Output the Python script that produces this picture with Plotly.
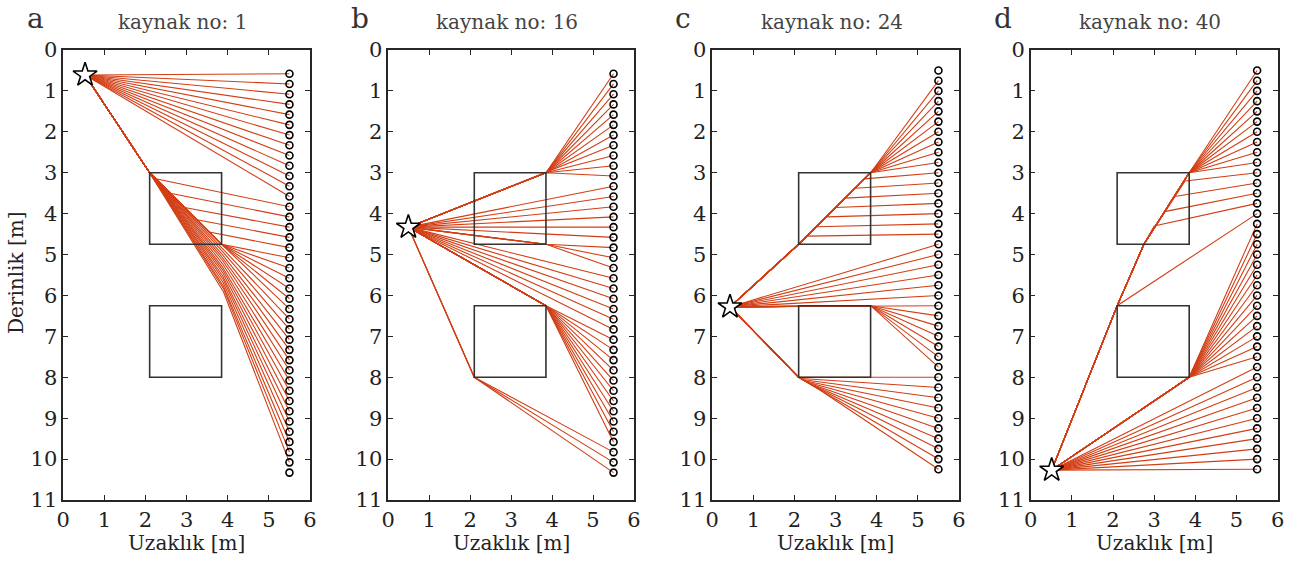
import plotly.graph_objects as go

# ---------------- data ----------------
PANEL_LETTERS = ["a", "b", "c", "d"]
PANEL_TITLES = ["kaynak no: 1", "kaynak no: 16", "kaynak no: 24", "kaynak no: 40"]

# receiver depths (m) at x = 5.5 m
REC_X = 5.5
REC_AB = [0.58, 0.83, 1.08, 1.33, 1.58, 1.83, 2.08, 2.33, 2.58, 2.83,
          3.08, 3.33, 3.58, 3.83, 4.08, 4.33, 4.58, 4.83, 5.08, 5.33,
          5.58, 5.83, 6.08, 6.33, 6.58, 6.83, 7.08, 7.33, 7.58, 7.83,
          8.08, 8.33, 8.58, 8.83, 9.08, 9.33, 9.58, 9.83, 10.08, 10.33]
REC_CD = [0.5, 0.75, 1.0, 1.25, 1.5, 1.75, 2.0, 2.25, 2.5, 2.75,
          3.0, 3.25, 3.5, 3.75, 4.0, 4.25, 4.5, 4.75, 5.0, 5.25,
          5.5, 5.75, 6.0, 6.25, 6.5, 6.75, 7.0, 7.25, 7.5, 7.75,
          8.0, 8.25, 8.5, 8.75, 9.0, 9.25, 9.5, 9.75, 10.0, 10.25]
RECEIVERS = [REC_AB, REC_AB, REC_CD, REC_CD]

# source positions
SOURCE_X = [0.53, 0.49, 0.43, 0.51]
SOURCE_Y = [0.61, 4.33, 6.28, 10.27]

# anomaly rectangles
RECT_X = [2.1, 3.85]
RECT_UPPER_Y = [3.0, 4.75]
RECT_LOWER_Y = [6.25, 8.0]

# ray groups: receiver index range, fixed bend points, per-ray branch points
RAYS_A = [
    dict(first=0, last=12, via=[], branch=None),
    dict(first=13, last=17, via=[(2.1, 3.0)],
         branch=[(2.25, 3.15), (2.6, 3.5), (2.95, 3.85), (3.25, 4.15), (3.55, 4.45)]),
    dict(first=18, last=22, via=[(2.1, 3.0), (3.85, 4.75)], branch=None),
    dict(first=23, last=38, via=[(2.1, 3.0)],
         branch=[(3.85, 4.75), (3.85, 4.83), (3.86, 4.91), (3.86, 4.99), (3.86, 5.06),
                 (3.87, 5.14), (3.87, 5.22), (3.87, 5.30), (3.88, 5.38), (3.88, 5.45),
                 (3.88, 5.53), (3.89, 5.61), (3.89, 5.69), (3.89, 5.77), (3.90, 5.84),
                 (3.90, 5.92)]),
]
RAYS_B = [
    dict(first=0, last=10, via=[(3.85, 3.0)], branch=None),
    dict(first=11, last=16, via=[], branch=None),
    dict(first=17, last=19, via=[(3.85, 4.75)], branch=None),
    dict(first=20, last=25, via=[], branch=None),
    dict(first=26, last=36, via=[(3.85, 6.25)], branch=None),
    dict(first=37, last=39, via=[(2.1, 8.0)], branch=None),
]
RAYS_C = [
    dict(first=1, last=9, via=[(2.1, 4.75), (3.85, 3.0)], branch=None),
    dict(first=10, last=16, via=[(2.1, 4.75)],
         branch=[(3.7, 3.15), (3.47, 3.38), (3.23, 3.62), (3.0, 3.85),
                 (2.77, 4.08), (2.53, 4.32), (2.3, 4.55)]),
    dict(first=17, last=22, via=[], branch=None),
    dict(first=23, last=29, via=[(3.85, 6.25)], branch=None),
    dict(first=30, last=39, via=[(2.1, 8.0)],
         branch=[(2.12, 8.0), (2.17, 8.03), (2.22, 8.06), (2.27, 8.09), (2.32, 8.12),
                 (2.38, 8.16), (2.43, 8.19), (2.48, 8.22), (2.54, 8.26), (2.6, 8.3)]),
]
RAYS_D = [
    dict(first=0, last=9, via=[(2.1, 6.25), (2.75, 4.75), (3.85, 3.0)], branch=None),
    dict(first=10, last=13, via=[(2.1, 6.25), (2.75, 4.75)],
         branch=[(3.75, 3.2), (3.5, 3.58), (3.25, 3.95), (3.0, 4.3)]),
    dict(first=14, last=14, via=[(2.1, 6.25)], branch=None),
    dict(first=15, last=28, via=[(3.85, 8.0)], branch=None),
    dict(first=29, last=39, via=[], branch=None),
]
RAYS = [RAYS_A, RAYS_B, RAYS_C, RAYS_D]

X_TICKS = [0, 1, 2, 3, 4, 5, 6]
Y_TICKS = [0, 1, 2, 3, 4, 5, 6, 7, 8, 9, 10, 11]

# ---------------- styling / layout ----------------
W, H = 1299, 561
RAY_COLOR = "rgb(210,62,20)"
AX_COLOR = "#262626"
FONT = "DejaVu Serif"

# axes pixel boxes (left, right) and (top, bottom)
AX_X_PX = [(63.3, 310.0), (388.3, 634.0), (712.3, 959.0), (1030.7, 1277.7)]
AX_Y_PX = (50.0, 500.0)
LETTER_X_PX = [35, 360, 683, 1003]


def px_x(v):
    return v / W


def px_y(v):
    return 1 - v / H


fig = go.Figure()
layout = dict(
    width=W, height=H,
    margin=dict(l=0, r=0, t=0, b=0, autoexpand=False),
    paper_bgcolor="white", plot_bgcolor="white",
    showlegend=False,
    annotations=[], shapes=[],
)

for p in range(4):
    n = "" if p == 0 else str(p + 1)
    xa, ya = "x" + n, "y" + n
    sx, sy = SOURCE_X[p], SOURCE_Y[p]
    rec = RECEIVERS[p]

    xs, ys = [], []
    for g in RAYS[p]:
        for k, i in enumerate(range(g["first"], g["last"] + 1)):
            pts = [(sx, sy)] + list(g["via"])
            if g["branch"] is not None:
                pts.append(g["branch"][k])
            pts.append((REC_X, rec[i]))
            xs += [q[0] for q in pts] + [None]
            ys += [q[1] for q in pts] + [None]
    fig.add_trace(go.Scatter(x=xs, y=ys, mode="lines",
                             line=dict(color=RAY_COLOR, width=1.1),
                             xaxis=xa, yaxis=ya, hoverinfo="skip"))

    fig.add_trace(go.Scatter(x=[REC_X] * len(rec), y=rec, mode="markers",
                             marker=dict(symbol="circle-open", size=7,
                                         color="black", line=dict(width=1.6)),
                             xaxis=xa, yaxis=ya, hoverinfo="skip"))
    fig.add_trace(go.Scatter(x=[sx], y=[sy], mode="markers",
                             marker=dict(symbol="star", size=18, color="white",
                                         line=dict(color="black", width=1.6)),
                             xaxis=xa, yaxis=ya, hoverinfo="skip"))

    for ry in (RECT_UPPER_Y, RECT_LOWER_Y):
        layout["shapes"].append(dict(type="rect", xref=xa, yref=ya,
                                     x0=RECT_X[0], x1=RECT_X[1], y0=ry[0], y1=ry[1],
                                     line=dict(color="#333333", width=1.6),
                                     layer="above"))

    l_px, r_px = AX_X_PX[p]
    common = dict(
        ticks="inside", ticklen=5, tickwidth=1.2, tickcolor=AX_COLOR,
        showline=True, linecolor=AX_COLOR, linewidth=1.5, mirror="allticks",
        showgrid=False, zeroline=False, automargin=False,
        tickfont=dict(family=FONT, size=21, color="#222222"),
    )
    layout["xaxis" + n] = dict(
        domain=[px_x(l_px), px_x(r_px)], range=[0, 6], anchor=ya,
        tickvals=X_TICKS, ticktext=[str(v) for v in X_TICKS], **common)
    layout["yaxis" + n] = dict(
        domain=[px_y(AX_Y_PX[1]), px_y(AX_Y_PX[0])], range=[11, 0], anchor=xa,
        tickvals=Y_TICKS, ticktext=[str(v) for v in Y_TICKS], **common)

    cx = (l_px + r_px) / 2
    layout["annotations"].append(dict(
        text=PANEL_TITLES[p], x=px_x(cx - 4), y=px_y(22), xref="paper", yref="paper",
        xanchor="center", yanchor="middle", showarrow=False,
        font=dict(family=FONT, size=20, color="#444444")))
    layout["annotations"].append(dict(
        text=PANEL_LETTERS[p], x=px_x(LETTER_X_PX[p]), y=px_y(19), xref="paper", yref="paper",
        xanchor="center", yanchor="middle", showarrow=False,
        font=dict(family=FONT, size=28, color="#333333")))
    layout["annotations"].append(dict(
        text="Uzaklık [m]", x=px_x(cx), y=px_y(543), xref="paper", yref="paper",
        xanchor="center", yanchor="middle", showarrow=False,
        font=dict(family=FONT, size=20, color="#222222")))

layout["annotations"].append(dict(
    text="Derinlik [m]", x=px_x(16), y=px_y(273), xref="paper", yref="paper",
    xanchor="center", yanchor="middle", showarrow=False, textangle=-90,
    font=dict(family=FONT, size=20, color="#222222")))

fig.update_layout(**layout)
fig.write_html("out.html")
